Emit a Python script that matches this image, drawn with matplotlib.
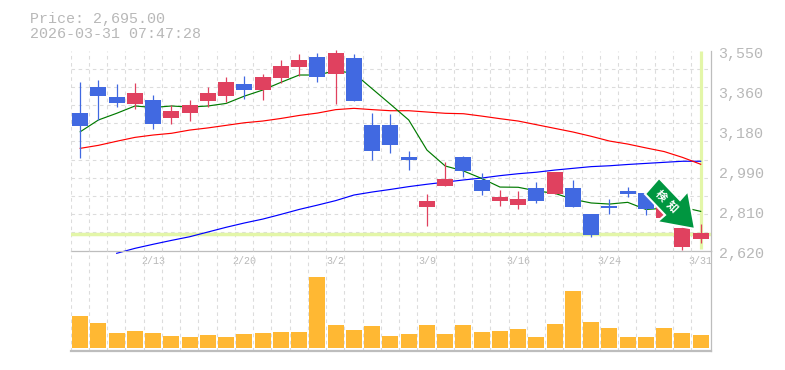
import matplotlib
matplotlib.use("Agg")
import matplotlib.pyplot as plt
import numpy as np
from matplotlib.patches import Polygon
from matplotlib.transforms import Bbox, ScaledTranslation, Affine2D

W, H = 785, 370
plt.rcParams["font.family"] = ["Liberation Mono", "Noto Sans CJK JP", "DejaVu Sans"]

price_now = 2695
tick_values = [3550, 3360, 3180, 2990, 2810, 2620]
date_labels = ["2/13", "2/20", "3/2", "3/9", "3/16", "3/24", "3/31"]
date_positions = [4, 9, 14, 19, 24, 29, 34]

opens = [3259, 3380, 3334, 3301, 3320, 3236, 3259, 3315, 3338, 3394, 3366, 3422, 3473, 3520, 3441, 3515,
         3203, 3203, 3055, 2822, 2920, 3055, 2948, 2850, 2832, 2911, 2883, 2911, 2790, 2827, 2897, 2887, 2770, 2636, 2673]
closes = [3199, 3338, 3306, 3352, 3208, 3269, 3297, 3352, 3403, 3366, 3427, 3478, 3506, 3427, 3537, 3315,
          3083, 3110, 3041, 2850, 2952, 2990, 2897, 2869, 2859, 2850, 2985, 2822, 2692, 2818, 2883, 2813, 2824, 2723, 2701]
highs = [3404, 3413, 3394, 3399, 3343, 3295, 3320, 3380, 3427, 3431, 3441, 3506, 3534, 3538, 3552, 3534,
         3259, 3255, 3083, 2883, 3031, 3059, 2980, 2901, 2897, 2938, 2985, 2948, 2790, 2859, 2915, 2887, 2824, 2730, 2743]
lows = [3050, 3227, 3287, 3278, 3185, 3208, 3222, 3287, 3310, 3324, 3320, 3399, 3431, 3403, 3301, 3315,
        3041, 3075, 2994, 2734, 2920, 2962, 2878, 2827, 2813, 2841, 2883, 2822, 2683, 2790, 2869, 2785, 2770, 2622, 2655]

ma_short = [3172, 3227, 3258, 3292, 3285, 3292, 3287, 3292, 3304, 3338, 3366, 3402, 3436, 3436, 3456, 3444,
            3372, 3300, 3227, 3087, 3013, 2990, 2955, 2915, 2914, 2897, 2886, 2858, 2841, 2836, 2844, 2811, 2816, 2821, 2802]
ma_mid = [3095, 3109, 3128, 3146, 3157, 3165, 3180, 3190, 3202, 3214, 3222, 3234, 3248, 3259, 3275, 3281,
          3275, 3270, 3270, 3264, 3258, 3256, 3245, 3233, 3222, 3205, 3188, 3171, 3151, 3129, 3115, 3097, 3080, 3053, 3021]
ma_long = [np.nan, np.nan, 2607, 2630, 2649, 2667, 2684, 2706, 2728, 2748, 2766, 2788, 2811, 2831, 2852, 2878,
           2892, 2904, 2917, 2928, 2938, 2948, 2957, 2968, 2977, 2984, 2994, 3002, 3010, 3014, 3020, 3025, 3030, 3035, 3035]
volumes = [32, 25, 15, 17, 15, 12, 11, 13, 11, 14, 15, 16, 16, 71, 23, 18, 22, 12, 14, 23,
           14, 23, 16, 17, 19, 11, 24, 57, 26, 20, 11, 11, 20, 15, 13]

BLUE, RED = "#4169e1", "#e0415f"
GRID, AXIS, TEXT = "#dcdcdc", "#bdbdbd", "#b8b8b8"
LIME = "#e3f6a8"
ORANGE, ARROW = "#ffb833", "#009640"

fig = plt.figure(figsize=(W / 100, H / 100), dpi=100, facecolor="white")
def axes_px(x0, y0, x1, y1):
    return fig.add_axes([x0 / W, 1 - y1 / H, (x1 - x0) / W, (y1 - y0) / H])

ax = axes_px(70.5, 50.5, 710.5, 250.5)
axv = axes_px(70.5, 250.5, 710.5, 350.5)
xs = np.arange(len(opens))
step = 18.25
xlim = ((70.5 - 80.2) / step, (710.5 - 80.2) / step)
grid_positions = (np.arange(35) * step + 70.7 - 80.2) / step

for a in (ax, axv):
    a.set_xlim(xlim)
    a.set_facecolor("none")
    for s in a.spines.values():
        s.set_visible(False)
    a.spines["right"].set_visible(True)
    a.spines["right"].set_color(AXIS)
    a.spines["right"].set_linewidth(0.9)
    a.spines["bottom"].set_visible(True)
    a.spines["bottom"].set_color(AXIS)
    a.set_axisbelow(True)
    a.set_xticks(grid_positions, minor=True)
    a.tick_params(axis="x", which="minor", length=0)
    a.grid(True, axis="x", which="minor", color=GRID, lw=0.8, dashes=(3.2, 3.2))
ax.spines["bottom"].set_linewidth(0.9)
axv.spines["bottom"].set_linewidth(1.6)

# price panel
ax.set_ylim(2620, 3550)
ax.set_yticks(np.linspace(2620, 3550, 12), minor=True)
ax.tick_params(axis="y", which="minor", length=0)
ax.grid(True, axis="y", which="minor", color=GRID, lw=0.8, dashes=(3.2, 3.2))
ax.yaxis.tick_right()
ax.set_yticks(np.linspace(3550, 2620, 6))
ax.set_yticklabels([f"{v:,}" for v in tick_values])
ax.tick_params(axis="y", which="major", length=0, pad=5.8, labelsize=10.8, labelcolor=TEXT)
shift = ScaledTranslation(0, -2.2 / 100, fig.dpi_scale_trans)
for lab in ax.get_yticklabels():
    lab.set_transform(lab.get_transform() + shift)

ax.set_xticks(date_positions)
ax.set_xticklabels(date_labels)
ax.tick_params(axis="x", which="major", length=0, pad=4.3, labelsize=7.2, labelcolor=TEXT)
for lab in ax.get_xticklabels():
    lab.set_clip_box(Bbox([[0, 0], [711, H]]))
    lab.set_clip_on(True)

ax.axhline(price_now + 4, color=LIME, lw=2.5, zorder=1.5)
ax.plot([xs[-1], xs[-1]], [2625, 3546], color=LIME, lw=2.3, zorder=1.5, solid_capstyle="butt")

ax.plot(xs, ma_long, color="#0000ff", lw=0.85, zorder=2, clip_on=False)
ax.plot(xs, ma_mid, color="#ff0000", lw=0.85, zorder=2)
ax.plot(xs, ma_short, color="#007a00", lw=0.85, zorder=2)

o, c, hi, lo = map(np.array, (opens, closes, highs, lows))
colors = [RED if cc >= oo else BLUE for oo, cc in zip(o, c)]
ax.vlines(xs, lo, hi, colors=colors, lw=0.9, zorder=3, clip_on=False)
ax.bar(xs, np.abs(c - o), bottom=np.minimum(o, c), width=16 / step, color=colors, zorder=3, linewidth=0)

# volume panel
axv.set_ylim(-2.5, 97.5)
axv.set_yticks([])
axv.set_xticks([])
axv.bar(xs, volumes, width=16 / step, color=ORANGE, zorder=3, linewidth=0)

# header text
fig.text(30 / W, 1 - 23 / H, f"Price: {price_now:,.2f}", color=TEXT, fontsize=10.8, va="baseline", ha="left")
fig.text(30 / W, 1 - 38 / H, "2026-03-31 07:47:28", color=TEXT, fontsize=10.8, va="baseline", ha="left")

# signal arrow badge
to_fig = Affine2D().scale(1 / W, -1 / H).translate(0, 1) + fig.transFigure
arrow_pts = [(659, 178), (645, 194), (665, 215), (657, 222), (695, 229), (688, 191), (680, 200)]
fig.add_artist(Polygon(arrow_pts, closed=True, facecolor=ARROW, edgecolor="white", lw=1.5, transform=to_fig, zorder=5, joinstyle="miter"))
for ch, (px, py) in zip("検知", [(660.5, 196), (672, 207)]):
    fig.text(px / W, 1 - py / H, ch, color="white", fontsize=8, fontweight="bold", rotation=-45,
             rotation_mode="anchor", ha="center", va="center", zorder=6, family=["Noto Sans CJK JP"])

fig.savefig("out.png", dpi=100, facecolor="white")
